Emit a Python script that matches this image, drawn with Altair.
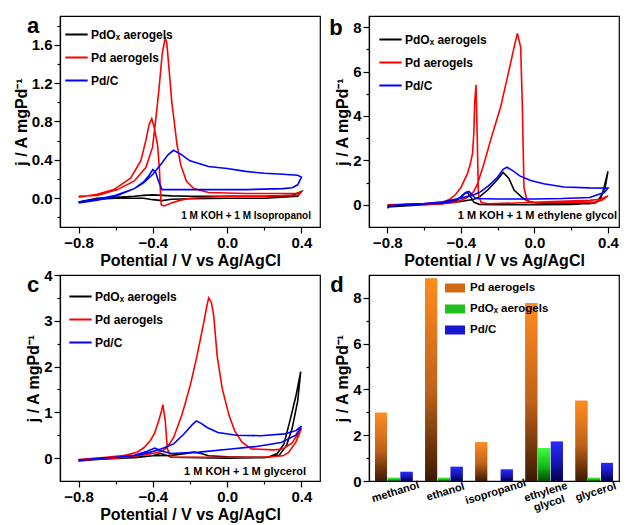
import altair as alt
import pandas as pd

FONT = "Liberation Sans"

# ---------------- series names / colours ----------------
SERIES = ["PdOₓ aerogels", "Pd aerogels", "Pd/C"]
COLORS = ["#000000", "#ff0000", "#0000ff"]

# ---------------- panel a : 1 M KOH + 1 M isopropanol ----------------
a_pdox_v = [-0.80, -0.70, -0.60, -0.50, -0.45, -0.40, -0.35, -0.30, -0.20, 0.00, 0.20, 0.35, 0.40,
            0.38, 0.20, 0.00, -0.20, -0.30, -0.35, -0.40, -0.45, -0.60, -0.70, -0.80]
a_pdox_j = [-0.04, 0.00, 0.01, 0.02, 0.03, 0.035, 0.03, 0.025, 0.02, 0.02, 0.02, 0.03, 0.07,
            0.02, 0.00, 0.00, -0.005, -0.01, -0.025, -0.015, 0.00, 0.00, -0.01, -0.04]
a_pd_v = [-0.80, -0.70, -0.59, -0.50, -0.438, -0.402, -0.385, -0.366, -0.35, -0.334, -0.325, -0.312,
          -0.298, -0.285, -0.27, -0.25, -0.22, -0.18, -0.10, 0.10, 0.30, 0.38, 0.40,
          0.38, 0.20, 0.00, -0.20, -0.25, -0.30, -0.34, -0.355, -0.36, -0.365, -0.375, -0.393,
          -0.406, -0.42, -0.438, -0.465, -0.52, -0.61, -0.70, -0.80]
a_pd_j = [0.02, 0.03, 0.09, 0.18, 0.32, 0.53, 0.81, 1.16, 1.50, 1.67, 1.62, 1.33,
          1.00, 0.80, 0.56, 0.35, 0.18, 0.10, 0.06, 0.05, 0.05, 0.05, 0.07,
          0.03, 0.02, 0.02, 0.00, -0.02, -0.05, -0.08, -0.07, 0.10, 0.32, 0.56, 0.74,
          0.83, 0.77, 0.60, 0.39, 0.21, 0.09, 0.04, 0.01]
a_pdc_v = [-0.80, -0.70, -0.60, -0.50, -0.45, -0.40, -0.35, -0.32, -0.289, -0.25, -0.20, -0.10,
           0.00, 0.10, 0.20, 0.30, 0.38, 0.40,
           0.38, 0.35, 0.30, 0.10, -0.10, -0.30, -0.35, -0.37, -0.385, -0.40, -0.42, -0.45,
           -0.50, -0.60, -0.70, -0.80]
a_pdc_j = [-0.04, -0.01, 0.03, 0.10, 0.16, 0.25, 0.37, 0.45, 0.50, 0.46, 0.39, 0.33,
           0.31, 0.28, 0.26, 0.25, 0.24, 0.22,
           0.14, 0.11, 0.10, 0.09, 0.09, 0.09, 0.09, 0.18, 0.27, 0.30, 0.24, 0.17,
           0.10, 0.02, -0.02, -0.05]

# ---------------- panel b : 1 M KOH + 1 M ethylene glycol ----------------
b_pdox_v = [-0.80, -0.78, -0.70, -0.60, -0.50, -0.40, -0.33, -0.30, -0.25, -0.20, -0.17, -0.14,
            -0.11, -0.06, -0.02, 0.10, 0.30, 0.34, 0.37, 0.40,
            0.385, 0.36, 0.33, 0.20, 0.00, -0.20, -0.30, -0.33, -0.35, -0.365, -0.39, -0.42,
            -0.50, -0.60, -0.80]
b_pdox_j = [-0.15, -0.05, 0.00, 0.02, 0.06, 0.15, 0.25, 0.35, 0.70, 1.15, 1.46, 1.20,
            0.65, 0.28, 0.10, 0.05, 0.05, 0.12, 0.50, 1.50,
            0.80, 0.30, 0.08, 0.02, 0.00, 0.00, 0.02, 0.12, 0.40, 0.56, 0.45, 0.20,
            0.05, 0.00, -0.10]
b_pd_v = [-0.80, -0.60, -0.50, -0.44, -0.40, -0.365, -0.33, -0.31, -0.275, -0.239, -0.184, -0.13,
          -0.105, -0.093, -0.075, -0.066, -0.057, -0.04, 0.00, 0.20, 0.33, 0.37, 0.40,
          0.36, 0.30, 0.10, -0.10, -0.25, -0.29, -0.305, -0.311, -0.318, -0.325, -0.33, -0.337,
          -0.35, -0.365, -0.40, -0.43, -0.46, -0.50, -0.60, -0.80]
b_pd_j = [0.00, 0.02, 0.05, 0.10, 0.20, 0.33, 0.60, 0.94, 1.84, 2.90, 4.40, 6.37,
          7.30, 7.72, 7.10, 4.50, 0.78, 0.18, 0.10, 0.10, 0.12, 0.22, 0.40,
          0.25, 0.20, 0.15, 0.08, 0.05, 0.10, 0.50, 3.00, 5.40, 4.60, 3.20, 2.30,
          1.80, 1.39, 0.78, 0.45, 0.25, 0.12, 0.04, 0.00]
b_pdc_v = [-0.80, -0.70, -0.60, -0.50, -0.40, -0.33, -0.30, -0.25, -0.20, -0.17, -0.15, -0.12,
           -0.08, -0.02, 0.05, 0.16, 0.30, 0.40,
           0.38, 0.30, 0.15, 0.00, -0.20, -0.32, -0.34, -0.356, -0.375, -0.40, -0.45, -0.50,
           -0.60, -0.80]
b_pdc_j = [-0.05, 0.02, 0.06, 0.12, 0.30, 0.45, 0.55, 0.85, 1.25, 1.60, 1.69, 1.55,
           1.30, 1.09, 0.95, 0.80, 0.76, 0.75,
           0.55, 0.33, 0.28, 0.26, 0.26, 0.28, 0.45, 0.60, 0.55, 0.35, 0.15, 0.08,
           0.04, -0.05]

# ---------------- panel c : 1 M KOH + 1 M glycerol ----------------
c_pdox_v = [-0.80, -0.70, -0.60, -0.50, -0.40, -0.30, -0.22, -0.18, -0.14, -0.10, 0.00, 0.10,
            0.22, 0.27, 0.306, 0.342, 0.37, 0.396,
            0.38, 0.35, 0.32, 0.28, 0.20, 0.00, -0.30, -0.34, -0.36, -0.40, -0.50, -0.60, -0.80]
c_pdox_j = [-0.06, -0.03, 0.00, 0.02, 0.05, 0.06, 0.10, 0.13, 0.10, 0.05, 0.03, 0.02,
            0.02, 0.10, 0.31, 0.88, 1.35, 1.89,
            1.25, 0.65, 0.28, 0.06, 0.01, 0.00, 0.02, 0.08, 0.10, 0.05, 0.01, -0.01, -0.05]
c_pd_v = [-0.80, -0.70, -0.60, -0.50, -0.45, -0.40, -0.35, -0.32, -0.288, -0.243, -0.198, -0.162,
          -0.126, -0.108, -0.099, -0.085, -0.072, -0.054, -0.027, 0.009, 0.04, 0.08, 0.13, 0.25,
          0.30, 0.35, 0.40,
          0.37, 0.33, 0.30, 0.20, 0.00, -0.20, -0.30, -0.322, -0.333, -0.346, -0.355, -0.369,
          -0.39, -0.414, -0.45, -0.486, -0.55, -0.65, -0.80]
c_pd_j = [-0.05, -0.02, 0.00, 0.04, 0.07, 0.10, 0.15, 0.25, 0.45, 0.95, 1.60, 2.24,
          2.96, 3.35, 3.50, 3.40, 3.10, 2.24, 1.53, 0.95, 0.60, 0.35, 0.20, 0.18,
          0.20, 0.33, 0.65,
          0.35, 0.12, 0.05, 0.02, 0.02, 0.02, 0.02, 0.20, 0.81, 1.17, 1.00, 0.81,
          0.55, 0.38, 0.22, 0.13, 0.06, 0.02, -0.03]
c_pdc_v = [-0.80, -0.70, -0.60, -0.50, -0.42, -0.378, -0.342, -0.288, -0.234, -0.19, -0.166, -0.14,
           -0.108, -0.05, 0.05, 0.18, 0.31, 0.37, 0.40,
           0.37, 0.29, 0.15, 0.02, -0.15, -0.30, -0.35, -0.39, -0.43, -0.50, -0.60, -0.80]
c_pdc_j = [-0.05, -0.01, 0.02, 0.06, 0.12, 0.17, 0.22, 0.31, 0.52, 0.72, 0.81, 0.76,
           0.67, 0.56, 0.50, 0.49, 0.53, 0.60, 0.70,
           0.50, 0.34, 0.25, 0.20, 0.13, 0.10, 0.15, 0.22, 0.15, 0.06, 0.02, -0.04]

# ---------------- panel d : peak current densities ----------------
d_categories = ["methanol", "ethanol", "isopropanol", "ethylene glycol", "glycerol"]
BAR_SERIES = ["Pd aerogels", "PdOₓ aerogels", "Pd/C"]
d_pd = [2.98, 8.85, 1.69, 7.78, 3.51]
d_pdox = [0.14, 0.14, 0.0, 1.43, 0.14]
d_pdc = [0.40, 0.62, 0.50, 1.72, 0.79]

# ---------------- axis ticks ----------------
x_ticks = [-0.8, -0.6, -0.4, -0.2, 0.0, 0.2, 0.4]
a_yticks = [-0.2, 0.0, 0.2, 0.4, 0.6, 0.8, 1.0, 1.2, 1.4, 1.6, 1.8]
b_yticks = [0, 1, 2, 3, 4, 5, 6, 7, 8]
c_yticks = [0.0, 0.5, 1.0, 1.5, 2.0, 2.5, 3.0, 3.5, 4.0]
d_yticks = [0, 1, 2, 3, 4, 5, 6, 7, 8]

XTITLE = "Potential / V vs Ag/AgCl"
YTITLE = "j / A mgPd⁻¹"

TENTHS_MAJOR = "abs(round(datum.value*10)) % 4 == 0"
EVEN_MAJOR = "abs(round(datum.value)) % 2 == 0 && datum.value == round(datum.value)"
INT_MAJOR = "datum.value == round(datum.value)"


def axis(title, values, major, fmt):
    return alt.Axis(
        title=title, values=values, grid=False, labelFlush=False, labelOverlap=False,
        labelExpr=f"({major}) ? format(datum.value, '{fmt}') : ''",
        tickSize={"condition": {"test": f"!({major})", "value": 3}, "value": 6},
        labelPadding=2, titlePadding=2,
    )


def cv_frame(curves):
    rows = []
    for name, vs, js in curves:
        for i, (v, j) in enumerate(zip(vs, js)):
            rows.append({"series": name, "idx": i, "V": v, "j": j})
    return pd.DataFrame(rows)


def cv_panel(df, xdom, ydom, yvals, ymajor, yfmt, letter, letter_xy, note, note_xy, note_size,
             leg_xy, width, height):
    lines = alt.Chart(df).mark_line(strokeWidth=1.6, clip=True).encode(
        x=alt.X("V:Q", scale=alt.Scale(domain=xdom, nice=False, zero=False),
                axis=axis(XTITLE, x_ticks, TENTHS_MAJOR, ".1f")),
        y=alt.Y("j:Q", scale=alt.Scale(domain=ydom, nice=False, zero=False),
                axis=axis(YTITLE, yvals, ymajor, yfmt)),
        color=alt.Color("series:N", scale=alt.Scale(domain=SERIES, range=COLORS),
                        legend=alt.Legend(title=None, orient="none", legendX=leg_xy[0],
                                          legendY=leg_xy[1], symbolType="stroke",
                                          symbolSize=500, symbolStrokeWidth=2,
                                          labelOffset=2, rowPadding=4, padding=0,
                                          labelFontSize=12)),
        order="idx:Q",
    )
    note_layer = alt.Chart(pd.DataFrame({"t": [note]})).mark_text(
        font=FONT, fontWeight="bold", fontSize=note_size, align="right", baseline="middle",
        color="black",
    ).encode(x=alt.value(note_xy[0]), y=alt.value(note_xy[1]), text="t:N")
    letter_layer = alt.Chart(pd.DataFrame({"t": [letter]})).mark_text(
        font=FONT, fontWeight="bold", fontSize=22, align="center", baseline="middle",
        color="black",
    ).encode(x=alt.value(letter_xy[0]), y=alt.value(letter_xy[1]), text="t:N")
    return alt.layer(lines, note_layer, letter_layer).properties(width=width, height=height)


df_a = cv_frame([(SERIES[0], a_pdox_v, a_pdox_j), (SERIES[1], a_pd_v, a_pd_j),
                 (SERIES[2], a_pdc_v, a_pdc_j)])
df_b = cv_frame([(SERIES[0], b_pdox_v, b_pdox_j), (SERIES[1], b_pd_v, b_pd_j),
                 (SERIES[2], b_pdc_v, b_pdc_j)])
df_c = cv_frame([(SERIES[0], c_pdox_v, c_pdox_j), (SERIES[1], c_pd_v, c_pd_j),
                 (SERIES[2], c_pdc_v, c_pdc_j)])

W1, W2, H1, H2 = 260, 250, 211, 206

panel_a = cv_panel(df_a, [-0.9, 0.5], [-0.3, 1.9], a_yticks, TENTHS_MAJOR, ".1f",
                   "a", (-27, 10), "1 M KOH + 1 M Isopropanol", (W1 - 9, H1 - 11), 10,
                   (4, 6), W1, H1)
panel_b = cv_panel(df_b, [-0.9, 0.46], [-1.0, 8.5], b_yticks, EVEN_MAJOR, "d",
                   "b", (-33, 12), "1 M KOH + 1 M ethylene glycol", (W2 - 2, H1 - 11), 11,
                   (9, 11), W2, H1)
panel_c = cv_panel(df_c, [-0.9, 0.5], [-0.5, 4.0], c_yticks, INT_MAJOR, "d",
                   "c", (-27, 10), "1 M KOH + 1 M glycerol", (W1 - 14, H2 - 9), 11,
                   (8, 9), W1, H2)

# ---------------- bar panel ----------------
bar_df = pd.DataFrame({
    "solvent": d_categories * 3,
    "series": [BAR_SERIES[0]] * 5 + [BAR_SERIES[1]] * 5 + [BAR_SERIES[2]] * 5,
    "value": d_pd + d_pdox + d_pdc,
})

GRADIENTS = [
    ["#ff8c1e", "#c0621a", "#3a1a02"],
    ["#3cff3c", "#18b818", "#004a00"],
    ["#2a2aff", "#1414b0", "#00004a"],
]
SOLID = ["#d06a18", "#20c020", "#1818d0"]

xenc = alt.X("solvent:N", sort=d_categories,
             scale=alt.Scale(paddingInner=0.25, paddingOuter=0.12),
             axis=alt.Axis(title=None, labelAngle=343, labelAlign="center", labelBaseline="top",
                           ticks=False, labelExpr="split(datum.label, ' ')", labelFontSize=11,
                           labelPadding=5, labelLineHeight=12))
xoff = alt.XOffset("series:N", sort=BAR_SERIES,
                   scale=alt.Scale(domain=BAR_SERIES, paddingInner=0.06))
yenc = alt.Y("value:Q", scale=alt.Scale(domain=[0, 9], nice=False),
             axis=axis(YTITLE, d_yticks, EVEN_MAJOR, "d"))

solid = alt.Chart(bar_df).mark_bar().encode(
    x=xenc, xOffset=xoff, y=yenc,
    color=alt.Color("series:N", scale=alt.Scale(domain=BAR_SERIES, range=SOLID),
                    legend=alt.Legend(title=None, orient="none", legendX=76, legendY=3,
                                      symbolType="M-1,-0.45H1V0.45H-1Z", symbolSize=400,
                                      symbolStrokeWidth=0, labelOffset=5, rowPadding=5,
                                      padding=0, labelFontSize=11.5)),
)
grad_layers = []
for s, stops in zip(BAR_SERIES, GRADIENTS):
    g = alt.Gradient(gradient="linear", x1=0, x2=0, y1=0, y2=1,
                     stops=[alt.GradientStop(color=stops[0], offset=0),
                            alt.GradientStop(color=stops[1], offset=0.55),
                            alt.GradientStop(color=stops[2], offset=1)])
    grad_layers.append(
        alt.Chart(bar_df).transform_filter(alt.datum.series == s)
        .mark_bar(fill=g).encode(x=xenc, xOffset=xoff, y=yenc)
    )
letter_d = alt.Chart(pd.DataFrame({"t": ["d"]})).mark_text(
    font=FONT, fontWeight="bold", fontSize=22, align="center", baseline="middle", color="black"
).encode(x=alt.value(-32), y=alt.value(10), text="t:N")

panel_d = alt.layer(solid, *grad_layers, letter_d).properties(width=W2, height=H2)

chart = alt.concat(panel_a, panel_b, panel_c, panel_d, columns=2, spacing={"row": 48, "column": 49}).resolve_scale(
    color="independent"
).properties(
    bounds="flush",
    padding={"left": 4, "top": 6, "right": 0, "bottom": 0},
).configure_view(
    stroke="black", strokeWidth=1.2
).configure_axis(
    domainColor="black", domainWidth=1.2, tickColor="black", tickWidth=1.2,
    labelFont=FONT, labelFontWeight="bold", labelFontSize=15, labelColor="black",
    titleFont=FONT, titleFontWeight="bold", titleFontSize=16, titleColor="black",
).configure_legend(
    labelFont=FONT, labelFontWeight="bold", labelColor="black", labelLimit=200,
)

chart.save("out.html", embed_options={"renderer": "svg", "actions": False})
